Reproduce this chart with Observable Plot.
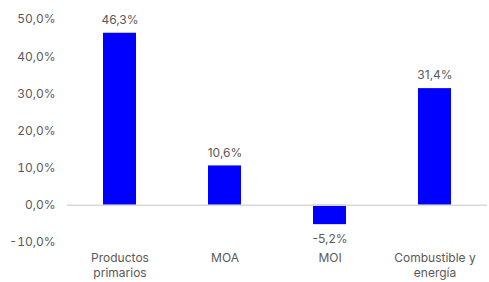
<!DOCTYPE html>
<html>
<head>
<meta charset="utf-8">
<script src="https://cdn.jsdelivr.net/npm/d3@7"></script>
<script src="https://cdn.jsdelivr.net/npm/@observablehq/plot@0.6"></script>
<style>
  html, body { margin: 0; padding: 0; background: #fff; }
  #chart { width: 489px; height: 282px; }
</style>
</head>
<body>
<div id="chart"></div>
<script>
const categories = ["Productos primarios", "MOA", "MOI", "Combustible y energía"];
const axisLabels = ["Productos\nprimarios", "MOA", "MOI", "Combustible y\nenergía"];
const values = [46.3, 10.6, -5.2, 31.4];
const yTicks = [-10, 0, 10, 20, 30, 40, 50];

const data = categories.map((c, i) => ({category: c, value: values[i]}));
const fmt = v => v.toFixed(1).replace(".", ",") + "%";
const labelOf = new Map(categories.map((c, i) => [c, axisLabels[i]]));

const chart = Plot.plot({
  width: 489,
  height: 282,
  marginTop: 19,
  marginBottom: 40,
  marginLeft: 67,
  marginRight: 2,
  style: {fontFamily: "Inter, sans-serif", fontSize: "12px", color: "#595959", background: "#fff"},
  x: {domain: categories, paddingInner: 0.686, paddingOuter: 0.343, label: null},
  y: {domain: [-10, 50], label: null},
  marks: [
    Plot.axisY(yTicks, {tickSize: 0, tickPadding: 12, tickFormat: fmt, fill: "#595959", fontSize: 12}),
    Plot.axisX({tickSize: 0, tickPadding: 10, tickFormat: c => labelOf.get(c), fill: "#595959", fontSize: 12, lineHeight: 1.17}),
    Plot.barY(data, {x: "category", y: "value", fill: "#0000ff"}),
    Plot.ruleY([0], {stroke: "#d9d9d9", strokeWidth: 1.5}),
    Plot.text(data.filter(d => d.value >= 0), {x: "category", y: "value", text: d => fmt(d.value), dy: -13, fill: "#595959", fontSize: 12}),
    Plot.text(data.filter(d => d.value < 0), {x: "category", y: "value", text: d => fmt(d.value), dy: 14, fill: "#595959", fontSize: 12})
  ]
});
document.getElementById("chart").appendChild(chart);
</script>
</body>
</html>
